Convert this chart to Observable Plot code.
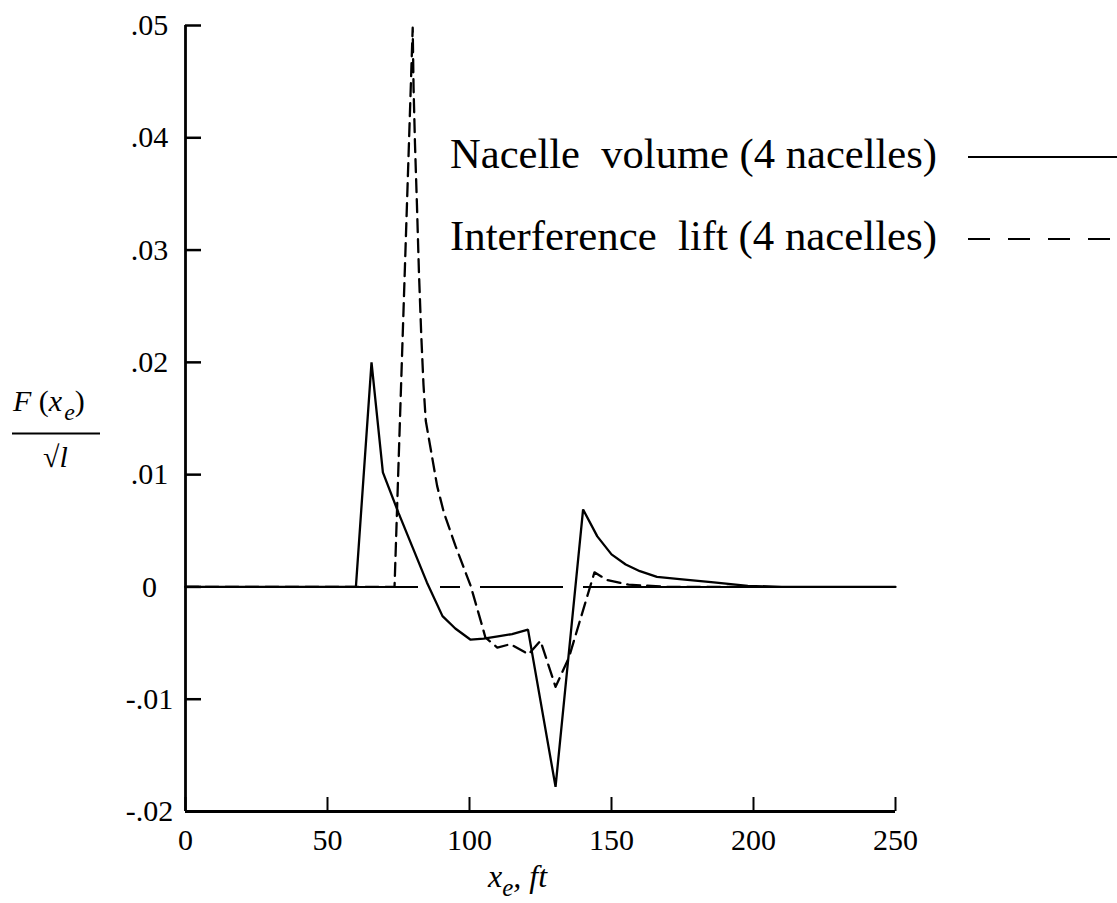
<!DOCTYPE html>
<html>
<head>
<meta charset="utf-8">
<script src="https://cdn.jsdelivr.net/npm/d3@7"></script>
<script src="https://cdn.jsdelivr.net/npm/@observablehq/plot@0.6"></script>
<style>
  html, body { margin: 0; padding: 0; background: #fff; }
  #chart { position: relative; width: 1117px; height: 903px; }
  #chart > svg { position: absolute; left: 0; top: 0; }
  #overlay { pointer-events: none; }
</style>
</head>
<body>
<div id="chart"></div>
<script>
// Equivalent-area distribution F(x_e)/sqrt(l) along the effective length x_e (ft)
const volumeX = [0, 60, 65.5, 69.5, 75, 80, 85, 90.5, 95, 100.4, 105, 110, 115, 120.6, 130.3, 140, 145, 150, 155, 160, 166, 174, 186, 198, 210, 250];
const volumeY = [0, 0, 0.020, 0.0102, 0.0066, 0.0035, 0.0004, -0.0026, -0.0037, -0.0047, -0.0046, -0.0044, -0.0042, -0.0038, -0.0178, 0.0069, 0.0045, 0.0029, 0.0020, 0.0014, 0.0009, 0.0007, 0.0004, 0.0001, 0, 0];

const liftX = [0, 73.6, 80, 80.3, 80.8, 81.5, 82.2, 83, 83.8, 84.6, 88.6, 91, 95, 100.4, 104.5, 105.6, 109.8, 114.4, 120.8, 125, 130.3, 135, 141.5, 144, 148.6, 156, 170, 200];
const liftY = [0, 0, 0.0498, 0.0445, 0.0395, 0.034, 0.028, 0.0225, 0.018, 0.0148, 0.009, 0.0066, 0.0037, 0.0001, -0.0035, -0.0045, -0.0054, -0.0051, -0.0060, -0.0048, -0.0089, -0.0063, -0.0008, 0.0013, 0.0006, 0.0002, 0, 0];

const xTicks = [0, 50, 100, 150, 200, 250];
const yTicks = [-0.02, -0.01, 0, 0.01, 0.02, 0.03, 0.04, 0.05];
const yTickLabels = ["-.02", "-.01", "0", ".01", ".02", ".03", ".04", ".05"];

const seriesNames = ["Nacelle\u00A0 volume (4 nacelles)", "Interference\u00A0 lift (4 nacelles)"];

const volume = volumeX.map((x, i) => ({x, y: volumeY[i]}));
const lift = liftX.map((x, i) => ({x, y: liftY[i]}));

// pick the first installed serif face
function hasFont(name) {
  const ctx = document.createElement("canvas").getContext("2d");
  const s = "Nacelle volume (4 nacelles) mmmwwwiil 0123456789";
  return ["monospace", "sans-serif", "serif"].some(base => {
    ctx.font = `40px ${base}`;
    const w0 = ctx.measureText(s).width;
    ctx.font = `40px "${name}", ${base}`;
    return ctx.measureText(s).width !== w0;
  });
}
const serifCandidates = ["Liberation Serif", "Tinos", "Times New Roman", "Nimbus Roman", "Nimbus Roman No9 L",
  "FreeSerif", "DejaVu Serif", "Noto Serif", "PT Serif", "Georgia"];
const serifFace = serifCandidates.find(hasFont);
const serif = serifFace ? `"${serifFace}", serif` : "serif";

const W = 1117, H = 903;
const mL = 185, mR = 222, mT = 25, mB = 92;
const frameW = W - mL - mR, frameH = H - mT - mB;

const chart = Plot.plot({
  width: W,
  height: H,
  marginLeft: mL,
  marginRight: mR,
  marginTop: mT,
  marginBottom: mB,
  style: {fontFamily: serif, fontSize: "30px", background: "#fff", color: "#000", overflow: "visible"},
  x: {domain: [0, 250], label: null},
  y: {domain: [-0.02, 0.05], label: null},
  marks: [
    // zero reference line (long dashes)
    Plot.ruleY([0], {stroke: "#000", strokeWidth: 2, strokeDasharray: "233,22,20,20,83,20,1000"}),
    Plot.line(volume, {x: "x", y: "y", stroke: "#000", strokeWidth: 2.3, strokeLinejoin: "miter"}),
    Plot.line(lift, {x: "x", y: "y", stroke: "#000", strokeWidth: 2.3, strokeDasharray: "13,7"}),
    // inward ticks
    Plot.tickY(yTicks, {y: d => d, insetRight: frameW - 16, stroke: "#000", strokeWidth: 2.5}),
    Plot.tickX(xTicks, {x: d => d, insetTop: frameH - 14, stroke: "#000", strokeWidth: 2}),
    // axis lines
    Plot.ruleX([0], {stroke: "#000", strokeWidth: 2.8}),
    Plot.ruleY([-0.02], {stroke: "#000", strokeWidth: 3}),
    Plot.axisY(yTicks, {tickSize: 0, tickPadding: 36, textAnchor: "middle", fontSize: 30, label: null,
      tickFormat: d => yTickLabels[yTicks.indexOf(d)]}),
    Plot.axisX(xTicks, {tickSize: 0, tickPadding: 17, fontSize: 30, label: null, tickFormat: d => String(d)})
  ]
});
document.getElementById("chart").appendChild(chart);

// Axis titles and key drawn on a transparent layer above the plot
const svg = d3.select("#chart").append("svg")
  .attr("id", "overlay")
  .attr("width", W).attr("height", H)
  .style("font-family", serif);

// y-axis title: F(x_e) / sqrt(l)
const num = svg.append("text").attr("x", 13).attr("y", 411).attr("font-size", 30);
num.append("tspan").attr("font-style", "italic").text("F");
num.append("tspan").text("\u00A0(");
num.append("tspan").attr("font-style", "italic").text("x");
num.append("tspan").attr("font-style", "italic").attr("font-size", 24).attr("dy", 9).attr("dx", 2).text("e");
num.append("tspan").attr("dy", -9).text(")");
svg.append("line").attr("x1", 12).attr("x2", 100).attr("y1", 433.5).attr("y2", 433.5)
  .attr("stroke", "#000").attr("stroke-width", 1.8);
const den = svg.append("text").attr("x", 43).attr("y", 467).attr("font-size", 30);
den.append("tspan").text("\u221A");
den.append("tspan").attr("font-style", "italic").text("l");

// x-axis title: x_e, ft
const xt = svg.append("text").attr("x", 488).attr("y", 887).attr("font-size", 32).attr("font-style", "italic");
xt.append("tspan").text("x");
xt.append("tspan").attr("font-size", 25).attr("dy", 9).text("e");
xt.append("tspan").attr("dy", -9).text(",\u00A0ft");

// key
const keyY = [168, 250];
seriesNames.forEach((name, i) => {
  svg.append("text").attr("x", 450).attr("y", keyY[i]).attr("font-size", 42.5)
    .attr("textLength", 487).attr("lengthAdjust", "spacingAndGlyphs").text(name);
  svg.append("line").attr("x1", 968).attr("x2", 1117).attr("y1", keyY[i] - 11).attr("y2", keyY[i] - 11)
    .attr("stroke", "#000").attr("stroke-width", 2)
    .attr("stroke-dasharray", i === 0 ? null : "22,18");
});
</script>
</body>
</html>
